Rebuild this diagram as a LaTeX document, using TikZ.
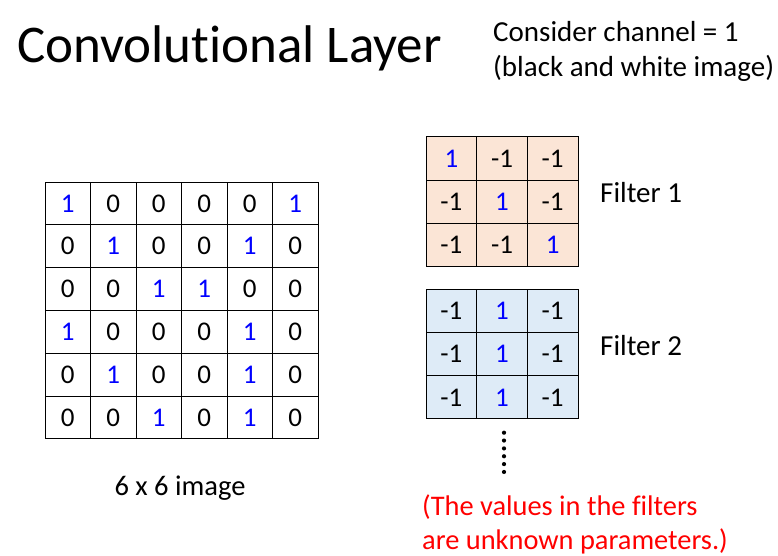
\documentclass[tikz,border=0pt]{standalone}
\usepackage{fontspec}
\setmainfont{Carlito}[Ligatures=NoCommon]
\definecolor{peach}{HTML}{FBE5D6}
\definecolor{paleblue}{HTML}{DEEBF7}
\definecolor{numblue}{HTML}{0000FF}
\definecolor{redtxt}{HTML}{FF0000}
\begin{document}
\begin{tikzpicture}[x=1pt,y=-1pt,
  cell/.style={draw, line width=1pt, inner sep=0pt, font=\fontsize{27}{32}\selectfont},
  imgcell/.style={cell, minimum width=45.5pt, minimum height=42.83pt},
  fcell/.style={cell, minimum width=50.67pt, minimum height=43pt},
  val/.code={\ifnum#1=1 \pgfkeysalso{text=numblue}\else\pgfkeysalso{text=black}\fi},
  label/.style={anchor=base west, inner sep=0pt, font=\fontsize{29}{35}\selectfont},
  dotnode/.style={circle, fill=black, inner sep=0pt, minimum size=4.2pt}]
\useasboundingbox (0,0) rectangle (778,556);
% title
\node[anchor=base west, inner sep=0pt, font=\fontsize{53}{60}\selectfont] (title) at (17,63) {Convolutional Layer};
\node[label] (cons1) at (493,42) {Consider channel = 1};
\node[label] (cons2) at (493,77) {(black and white image)};
% 6x6 image
\foreach \row [count=\r] in {{1,0,0,0,0,1},{0,1,0,0,1,0},{0,0,1,1,0,0},{1,0,0,0,1,0},{0,1,0,0,1,0},{0,0,1,0,1,0}}{
  \foreach \v [count=\c] in \row {
    \node[imgcell, val=\v] (g-\r-\c) at ({45+45.5*(\c-0.5)}, {182+42.83*(\r-0.5)}) {\v};
  }
}
\node[anchor=base, inner sep=0pt, font=\fontsize{28.5}{32}\selectfont] (imglabel) at (180,495) {6 x 6 image};
% filter 1
\foreach \row [count=\r] in {{1,-1,-1},{-1,1,-1},{-1,-1,1}}{
  \foreach \v [count=\c] in \row {
    \node[fcell, fill=peach, val=\v] (fa-\r-\c) at ({426+50.67*(\c-0.5)}, {137+43*(\r-0.5)}) {\v};
  }
}
\node[label] (f1) at (600,202) {Filter 1};
% filter 2
\foreach \row [count=\r] in {{-1,1,-1},{-1,1,-1},{-1,1,-1}}{
  \foreach \v [count=\c] in \row {
    \node[fcell, fill=paleblue, val=\v] (fb-\r-\c) at ({426+50.67*(\c-0.5)}, {289+43.33*(\r-0.5)}) {\v};
  }
}
\node[label] (f2) at (600,355) {Filter 2};
% dots
\foreach \k in {0,...,5}{
  \node[dotnode] (dot\k) at (504,{432.7+7.85*\k}) {};
}
% red note
\node[label, text=redtxt, font=\fontsize{28.4}{34}\selectfont] (note1) at (422,515) {(The values in the filters};
\node[label, text=redtxt, font=\fontsize{28.4}{34}\selectfont] (note2) at (422,549) {are unknown parameters.)};
\end{tikzpicture}
\end{document}
